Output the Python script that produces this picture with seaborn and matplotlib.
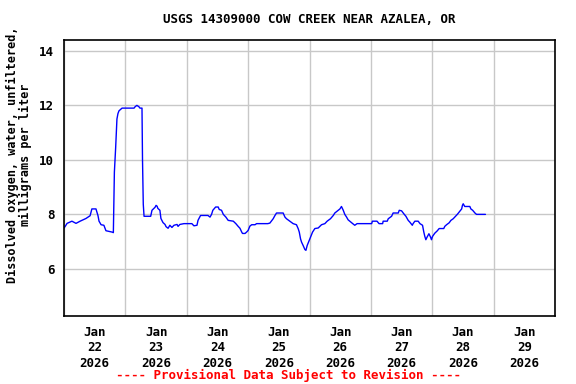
import numpy as np
import pandas as pd
import matplotlib
matplotlib.use('Agg')
import matplotlib.pyplot as plt
import matplotlib.dates as mdates
import seaborn as sns

sns.set_style('white')
plt.rcParams['font.family'] = ['DejaVu Sans Mono']
plt.rcParams['text.color'] = 'black'
plt.rcParams['axes.labelcolor'] = 'black'
plt.rcParams['xtick.color'] = 'black'
plt.rcParams['ytick.color'] = 'black'

# hours since Jan 22 2026 00:00, dissolved oxygen (mg/L)
hours = [0, 0.4, 1.2, 3.1, 4.7, 6.3, 8.6, 10.2, 10.9, 12.5, 13.3, 13.7, 14.5, 15.6, 16.4,
         18.8, 19.3, 19.7, 20.2, 20.7, 21.1, 21.5, 22.7, 24.2, 27.4, 27.8, 28.5, 29.3, 29.7,
         30.5, 30.7, 31.0, 31.3, 33.9, 34.4, 35.6, 36.0, 36.4, 36.7, 37.5, 37.9, 38.7, 39.5,
         39.9, 40.7, 41.4, 42.2, 43.0, 44.2, 44.6, 45.3, 46.9, 50.0, 50.8, 52.0, 52.4, 53.4,
         56.3, 57.1, 57.7, 58.2, 59.3, 60.3, 60.7, 61.6, 62.3, 63.3, 64.2, 66.2, 67.2, 68.1,
         68.8, 69.5, 69.8, 70.8, 71.4, 72.0, 72.7, 73.4, 74.7, 75.3, 79.7, 80.5, 81.8, 82.5,
         83.1, 85.7, 86.4, 87.0, 88.3, 89.6, 90.9, 91.6, 92.0, 92.5, 92.9, 93.5, 94.2, 94.6,
         95.1, 95.9, 96.4, 97.2, 98.1, 99.4, 100.7, 102.0, 102.9, 104.2, 105.3, 105.9, 107.2,
         107.9, 108.5, 109.2, 109.8, 110.5, 111.1, 112.1, 112.9, 113.7, 114.6, 120.3, 120.6,
         122.4, 123.2, 124.6, 124.8, 126.4, 126.8, 128.1, 128.7, 130.7, 131.1, 132.0, 132.9,
         133.7, 134.6, 135.2, 136.2, 136.5, 137.2, 138.5, 139.2, 140.2, 140.7, 141.1, 141.5,
         142.0, 142.7, 143.3, 143.7, 144.1, 145.0, 145.9, 146.7, 148.5, 148.9, 149.6, 150.6,
         151.3, 152.2, 153.1, 153.8, 154.5, 155.5, 155.8, 156.1, 156.7, 158.7, 159.1, 159.8,
         160.7, 161.3, 164.8]
oxygen = [7.5, 7.55, 7.67, 7.75, 7.67, 7.75, 7.85, 7.95, 8.2, 8.2, 7.95, 7.75, 7.62, 7.6, 7.4,
          7.35, 7.33, 9.55, 10.45, 11.5, 11.7, 11.8, 11.9, 11.9, 11.9, 11.95, 12.0, 11.95, 11.9,
          11.9, 10.0, 8.37, 7.93, 7.93, 8.15, 8.26, 8.33, 8.3, 8.22, 8.15, 7.85, 7.7, 7.63,
          7.55, 7.49, 7.6, 7.52, 7.6, 7.63, 7.56, 7.63, 7.66, 7.66, 7.58, 7.6, 7.78, 7.96,
          7.96, 7.9, 8.0, 8.15, 8.27, 8.27, 8.18, 8.15, 8.0, 7.9, 7.78, 7.75, 7.66, 7.56,
          7.49, 7.35, 7.3, 7.3, 7.35, 7.41, 7.57, 7.62, 7.62, 7.66, 7.66, 7.68, 7.84, 7.96,
          8.05, 8.05, 7.9, 7.84, 7.75, 7.66, 7.62, 7.47, 7.35, 7.1, 6.98, 6.86, 6.71, 6.68,
          6.86, 7.05, 7.17, 7.35, 7.48, 7.5, 7.62, 7.66, 7.75, 7.84, 7.96, 8.05, 8.15,
          8.2, 8.29, 8.15, 8.0, 7.9, 7.8, 7.72, 7.66, 7.6, 7.66, 7.66, 7.75,
          7.75, 7.66, 7.66, 7.75, 7.75, 7.84, 7.93, 8.05, 8.05, 8.15, 8.13, 8.02,
          7.93, 7.78, 7.72, 7.6, 7.66, 7.75, 7.75, 7.66, 7.6, 7.35, 7.19, 7.07,
          7.17, 7.29, 7.17, 7.07, 7.19, 7.31, 7.39, 7.48, 7.48, 7.56, 7.62, 7.69,
          7.78, 7.84, 7.93, 8.0, 8.08, 8.2, 8.33, 8.39, 8.29, 8.29, 8.2, 8.15,
          8.05, 8.0, 8.0]
day_labels = ['Jan\n22\n2026', 'Jan\n23\n2026', 'Jan\n24\n2026', 'Jan\n25\n2026',
              'Jan\n26\n2026', 'Jan\n27\n2026', 'Jan\n28\n2026', 'Jan\n29\n2026']
y_ticks = [6, 8, 10, 12, 14]

start = pd.Timestamp('2026-01-22')
df = pd.DataFrame({'time': start + pd.to_timedelta(hours, unit='h'), 'do': oxygen})

fig = plt.figure(figsize=(5.76, 3.84), dpi=100)
ax = fig.add_axes([64 / 576, 68 / 384, 491 / 576, 276 / 384])

sns.lineplot(data=df, x='time', y='do', color='#0000ff', linewidth=1.0, ax=ax)

days = pd.date_range(start, periods=9, freq='D')
ax.set_xlim(days[0], days[-1])
ax.set_ylim(4.27, 14.4)
ax.set_xticks(days)
ax.set_xticklabels([])
ax.set_xticks(days[:-1] + pd.Timedelta(hours=12), minor=True)
ax.set_xticklabels(day_labels, minor=True, fontsize=9, fontweight='bold', linespacing=1.25)
ax.set_yticks(y_ticks)
ax.set_yticklabels([str(v) for v in y_ticks], fontsize=9, fontweight='bold')
ax.tick_params(which='both', length=0, pad=7)
ax.grid(True, which='major', color='#c8c8c8', linewidth=1)
ax.set_axisbelow(True)
for s in ax.spines.values():
    s.set_color('black')
    s.set_linewidth(1.2)

ax.set_xlabel('')
ax.set_ylabel('Dissolved oxygen, water, unfiltered,\nmilligrams per liter',
              fontsize=8.5, fontweight='bold', linespacing=1.0)
ax.yaxis.set_label_coords(-0.066, 0.585)
ax.set_title('USGS 14309000 COW CREEK NEAR AZALEA, OR', fontsize=9, fontweight='bold', pad=12)
fig.text(0.5, 0.005, '---- Provisional Data Subject to Revision ----', color='red',
         ha='center', va='bottom', fontsize=9, fontweight='bold')

fig.savefig('out.png', dpi=100)
